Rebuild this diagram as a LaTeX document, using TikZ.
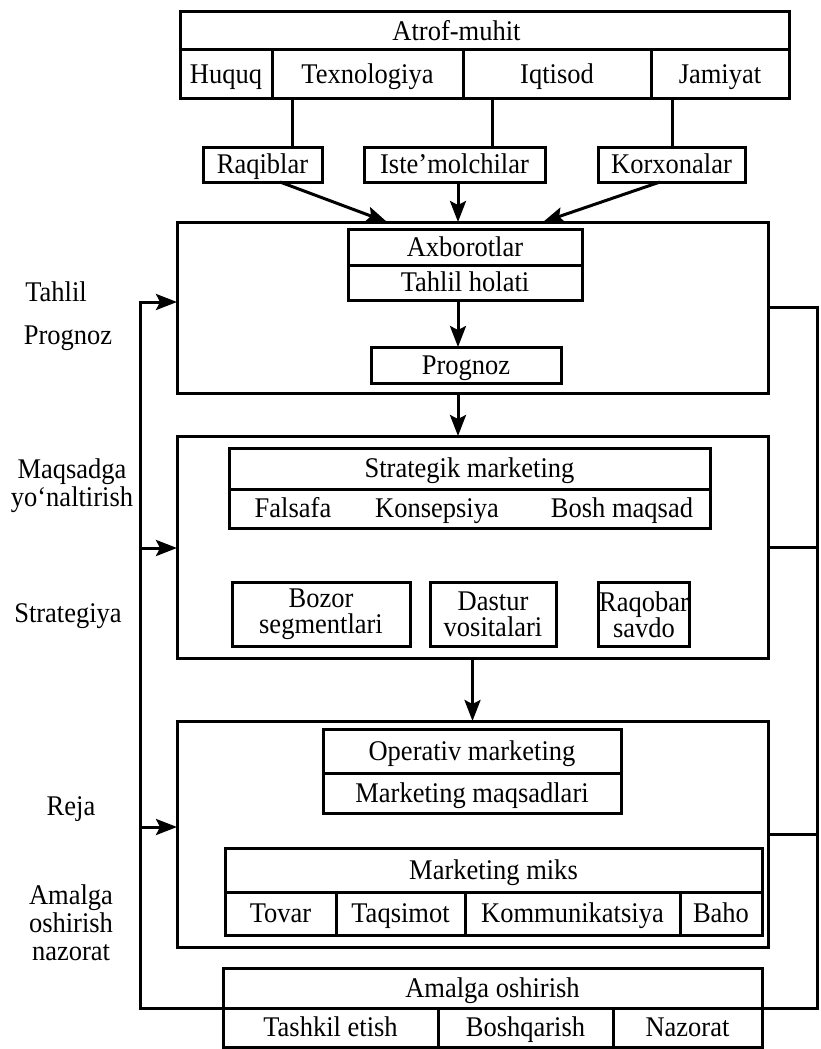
\documentclass[tikz,border=0pt]{standalone}
\usepackage{fontspec}
\setmainfont{Liberation Serif}[FakeStretch=0.93]
\usetikzlibrary{positioning,calc,arrows.meta}

\begin{document}
\begin{tikzpicture}[x=1pt,y=-1pt,every node/.style={font=\fontsize{28.5}{28}\selectfont}]
\tikzstyle{cell}=[draw, line width=3pt, inner sep=1pt, outer sep=0pt, text height=19pt, text depth=0.5pt]
\tikzstyle{cellii}=[draw, line width=3pt, inner sep=1pt, outer sep=0pt, align=center, font=\fontsize{28.5}{26}\selectfont]
\tikzstyle{bigbox}=[draw, line width=3pt, outer sep=0pt, minimum width=591pt]
\tikzstyle{lbl}=[inner sep=0pt, align=center]
\tikzstyle{ln}=[line width=3pt]
\tikzstyle{arr}=[line width=3pt, -{Stealth[length=21pt, width=16pt, inset=4pt]}]

\fill[white] (0,0) rectangle (820,1049);
\useasboundingbox (0,0) rectangle (820,1049);

% atrof-muhit
\node[cell, minimum width=609pt, minimum height=38pt] (atrof) at (484.5,31) {\hspace*{-56pt}Atrof-muhit};
\foreach \nm/\x/\w/\txt in {huq/226/92/Huquq, tex/367.5/191/Texnologiya, iqt/557/188/Iqtisod, jam/720/138/Jamiyat}
  \node[cell, minimum width=\w pt, minimum height=48pt] (\nm) at (\x,74) {\txt};

\foreach \nm/\x/\w/\txt in {raq/262.5/119/Raqiblar, ist/454.5/181/Iste’molchilar, kor/671.5/147/Korxonalar}
  \node[cell, minimum width=\w pt, minimum height=35pt] (\nm) at (\x,164.5) {\txt};
\foreach \nm/\up/\s in {raq/tex/29.5, ist/iqt/37.5, kor/jam/0.5}{
  \coordinate (t\nm) at ($(\nm.north)+(\s,0)$);
  \draw[ln] (t\nm) -- (t\nm |- \up.south);
}

% tahlil va prognoz
\node[bigbox, minimum height=171pt] (tbox) at (472.5,307.5) {};
\draw[arr] ($(raq.south)+(17.5,0)$) -- ($(tbox.north)+(-85.5,0)$);
\draw[arr] ($(ist.south)+(3.5,0)$) -- ($(tbox.north)+(-14.5,0)$);
\draw[arr] ($(kor.south)+(-11.5,0)$) -- ($(tbox.north)+(70.5,0)$);

\node[cell, minimum width=234pt, minimum height=36pt] (axb) at (465,247) {Axborotlar};
\node[cell, minimum width=234pt, minimum height=35pt, below=0pt of axb] (tah) {Tahlil holati};
\node[cell, minimum width=190pt, minimum height=36pt] (prog) at (466,365) {Prognoz};
\draw[arr] ($(tah.south)+(-7,0)$) -- ($(prog.north)+(-8,0)$);

% strategik marketing
\node[bigbox, minimum height=222pt] (sbox) at (472.5,547) {};
\draw[arr] ($(tbox.south)+(-14.5,0)$) -- ($(sbox.north)+(-14.5,0)$);
\node[cell, minimum width=481pt, minimum height=41pt] (strm) at (469.5,468.5) {Strategik marketing};
\node[cell, minimum width=481pt, minimum height=39pt, below=0pt of strm] (strrow) {};
\foreach \nm/\x/\txt in {fal/293/Falsafa, kon/437/Konsepsiya, bosh/622/Bosh maqsad}
  \node[lbl, text height=19pt, text depth=0.5pt] (\nm) at (\x,508.5) {\txt};
\foreach \nm/\x/\w/\txt in {boz/321/178/Bozor\\segmentlari, das/493/126/Dastur\\vositalari, raqs/644/90/Raqobar\\savdo}
  \node[cellii, minimum width=\w pt, minimum height=64pt] (\nm) at (\x,614.5) {\txt};

% operativ marketing
\node[bigbox, minimum height=226pt] (obox) at (472.5,834) {};
\draw[arr] (sbox.south) -- (obox.north);
\node[cell, minimum width=298pt, minimum height=44pt] (opm) at (472,751) {Operativ marketing};
\node[cell, minimum width=298pt, minimum height=40pt, below=0pt of opm] (mmq) {Marketing maqsadlari};
\node[cell, minimum width=537pt, minimum height=44pt] (mmiks) at (493.5,870) {Marketing miks};
\foreach \nm/\x/\w/\txt in {tov/280.5/111/Tovar, taq/400.5/129/Taqsimot, kom/572.5/215/Kommunikatsiya, baho/721/82/Baho}
  \node[cell, minimum width=\w pt, minimum height=43pt] (\nm) at (\x,913.5) {\txt};

% amalga oshirish
\node[cell, minimum width=539pt, minimum height=40pt] (amh) at (492.5,988) {Amalga oshirish};
\foreach \nm/\x/\w/\txt in {tash/330.5/215/Tashkil etish, bosq/525.5/175/Boshqarish, naz/687.5/149/Nazorat}
  \node[cell, minimum width=\w pt, minimum height=39pt] (\nm) at (\x,1027.5) {\txt};

% qayta aloqa
\draw[arr] (amh.south west) -| ($(tbox.west)+(-37,-5.5)$) -- ($(tbox.west)+(0,-5.5)$);
\draw[arr] ($(sbox.west)+(-37,1)$) -- ($(sbox.west)+(0,1)$);
\draw[arr] ($(obox.west)+(-37,-7)$) -- ($(obox.west)+(0,-7)$);
\draw[ln] (tbox.east) -- ++(49,0) coordinate (rc) |- (amh.south east);
\draw[ln] (sbox.east) -- (sbox.east -| rc);
\draw[ln] (obox.east) -- (obox.east -| rc);

% bosqichlar
\node[lbl, anchor=base] (lt) at (56,301) {Tahlil};
\node[lbl, anchor=base] (lp) at (68,344) {Prognoz};
\node[lbl] (lm) at (72,486) {Maqsadga\\yo‘naltirish};
\node[lbl, anchor=base] (ls) at (68,622) {Strategiya};
\node[lbl, anchor=base] (lr) at (71,815) {Reja};
\node[lbl] (la) at (71,923) {Amalga\\oshirish\\nazorat};
\end{tikzpicture}
\end{document}
